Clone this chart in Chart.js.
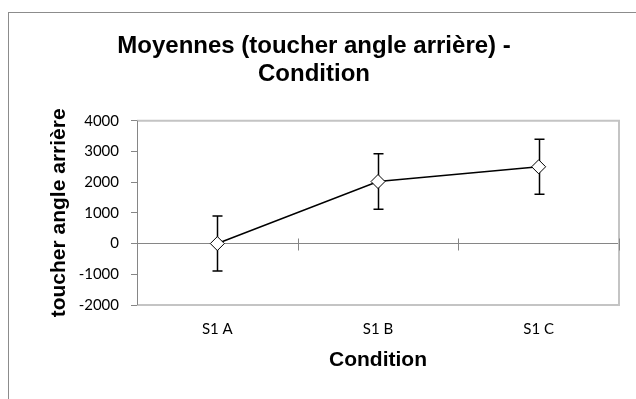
<!DOCTYPE html>
<html>
<head>
<meta charset="utf-8">
<script src="https://cdn.jsdelivr.net/npm/chart.js@4/dist/chart.umd.min.js"></script>
<style>
  html, body { margin: 0; padding: 0; background: #fff; overflow: hidden; width: 636px; height: 399px; }
  #frame { position: absolute; left: 8px; top: 12px; width: 640px; height: 400px;
           border-left: 1px solid #8c8c8c; border-top: 1px solid #8c8c8c; }
  canvas { display: block; }
</style>
</head>
<body>
<div id="frame"><canvas id="c" width="640" height="386"></canvas></div>
<script>
// Categories, means and error half-widths
const categories = ['S1 A', 'S1 B', 'S1 C'];
const means = [0, 2020, 2500];
const errors = [895, 900, 895];
const yTicks = [-2000, -1000, 0, 1000, 2000, 3000, 4000];

const AXIS_GREY = '#868686';

// Light frame round the plot area
const plotFrame = {
  id: 'plotFrame',
  beforeDatasetsDraw(chart) {
    const { ctx, chartArea: a } = chart;
    ctx.save();
    ctx.strokeStyle = '#c4c4c4';
    ctx.lineWidth = 2;
    ctx.beginPath();
    ctx.moveTo(a.left, a.top);
    ctx.lineTo(a.right, a.top);
    ctx.lineTo(a.right, a.bottom);
    ctx.lineTo(a.left, a.bottom);
    ctx.stroke();
    // redraw the value axis line on top of the frame
    ctx.strokeStyle = AXIS_GREY;
    ctx.lineWidth = 1;
    ctx.beginPath();
    ctx.moveTo(a.left + 0.5, a.top);
    ctx.lineTo(a.left + 0.5, a.bottom);
    ctx.stroke();
    ctx.restore();
  }
};

// Category boundary ticks crossing the zero line
const zeroTicks = {
  id: 'zeroTicks',
  beforeDatasetsDraw(chart) {
    const { ctx } = chart;
    const x = chart.scales.x, y = chart.scales.y;
    const y0 = Math.round(y.getPixelForValue(0)) + 0.5;
    ctx.save();
    ctx.strokeStyle = AXIS_GREY;
    ctx.lineWidth = 1;
    ctx.beginPath();
    for (let i = 0; i < categories.length; i++) {
      const xb = i < categories.length - 1
        ? (x.getPixelForValue(i) + x.getPixelForValue(i + 1)) / 2
        : chart.chartArea.right;
      const px = Math.round(xb) + 0.5;
      ctx.moveTo(px, y0 - 6);
      ctx.lineTo(px, y0 + 6);
    }
    ctx.stroke();
    ctx.restore();
  }
};

// Error bars with caps, drawn under the markers
const errorBars = {
  id: 'errorBars',
  beforeDatasetsDraw(chart) {
    const { ctx } = chart;
    const x = chart.scales.x, y = chart.scales.y;
    ctx.save();
    ctx.strokeStyle = '#000';
    ctx.lineWidth = 1.5;
    ctx.beginPath();
    means.forEach((m, i) => {
      const px = Math.round(x.getPixelForValue(i)) + 0.5;
      const top = y.getPixelForValue(m + errors[i]);
      const bot = y.getPixelForValue(m - errors[i]);
      ctx.moveTo(px, top); ctx.lineTo(px, bot);
      ctx.moveTo(px - 5, top); ctx.lineTo(px + 5, top);
      ctx.moveTo(px - 5, bot); ctx.lineTo(px + 5, bot);
    });
    ctx.stroke();
    ctx.restore();
  }
};

new Chart(document.getElementById('c'), {
  type: 'line',
  data: {
    labels: categories,
    datasets: [{
      data: means,
      borderColor: '#000',
      borderWidth: 1.5,
      pointStyle: 'rectRot',
      pointRadius: 7,
      pointBackgroundColor: '#fff',
      pointBorderColor: '#000',
      pointBorderWidth: 1,
      tension: 0
    }]
  },
  options: {
    responsive: false,
    animation: false,
    devicePixelRatio: 1,
    layout: { padding: { left: 0, top: 0, right: 30, bottom: 0 } },
    plugins: {
      legend: { display: false },
      tooltip: { enabled: false },
      title: {
        display: true,
        text: ['Moyennes (toucher angle arrière) -', 'Condition'],
        color: '#000',
        font: { family: '"Liberation Sans", Arial, sans-serif', size: 24, weight: 'bold', lineHeight: 28 / 24 },
        padding: { top: 19.4, bottom: 32.3 }
      }
    },
    scales: {
      x: {
        type: 'category',
        offset: true,
        grid: { display: false, drawTicks: false },
        border: { display: false },
        ticks: {
          color: '#000',
          font: { family: 'Lato, "Open Sans", sans-serif', size: 15 },
          padding: 15,
          maxRotation: 0
        },
        title: {
          display: true,
          text: 'Condition',
          color: '#000',
          font: { family: '"Liberation Sans", Arial, sans-serif', size: 21, weight: 'bold' },
          padding: { top: 4, bottom: 26 }
        },
        afterFit(scale) { scale.height = 94; }
      },
      y: {
        min: -2000,
        max: 4000,
        afterBuildTicks(scale) { scale.ticks = yTicks.map(v => ({ value: v })); },
        grid: {
          drawOnChartArea: true,
          color: ctx => (ctx.tick && ctx.tick.value === 0 ? AXIS_GREY : 'rgba(0,0,0,0)'),
          tickColor: AXIS_GREY,
          tickLength: 6,
          lineWidth: 1
        },
        border: { display: true, color: AXIS_GREY, width: 1 },
        ticks: {
          color: '#000',
          font: { family: 'Lato, "Open Sans", sans-serif', size: 15 },
          padding: 12,
          callback: v => String(v)
        },
        title: {
          display: true,
          text: 'toucher angle arrière',
          color: '#000',
          font: { family: '"Liberation Sans", Arial, sans-serif', size: 21, weight: 'bold' },
          padding: { top: 38, bottom: 4 }
        },
        afterFit(scale) { scale.width = 128; }
      }
    }
  },
  plugins: [plotFrame, zeroTicks, errorBars]
});
</script>
</body>
</html>
